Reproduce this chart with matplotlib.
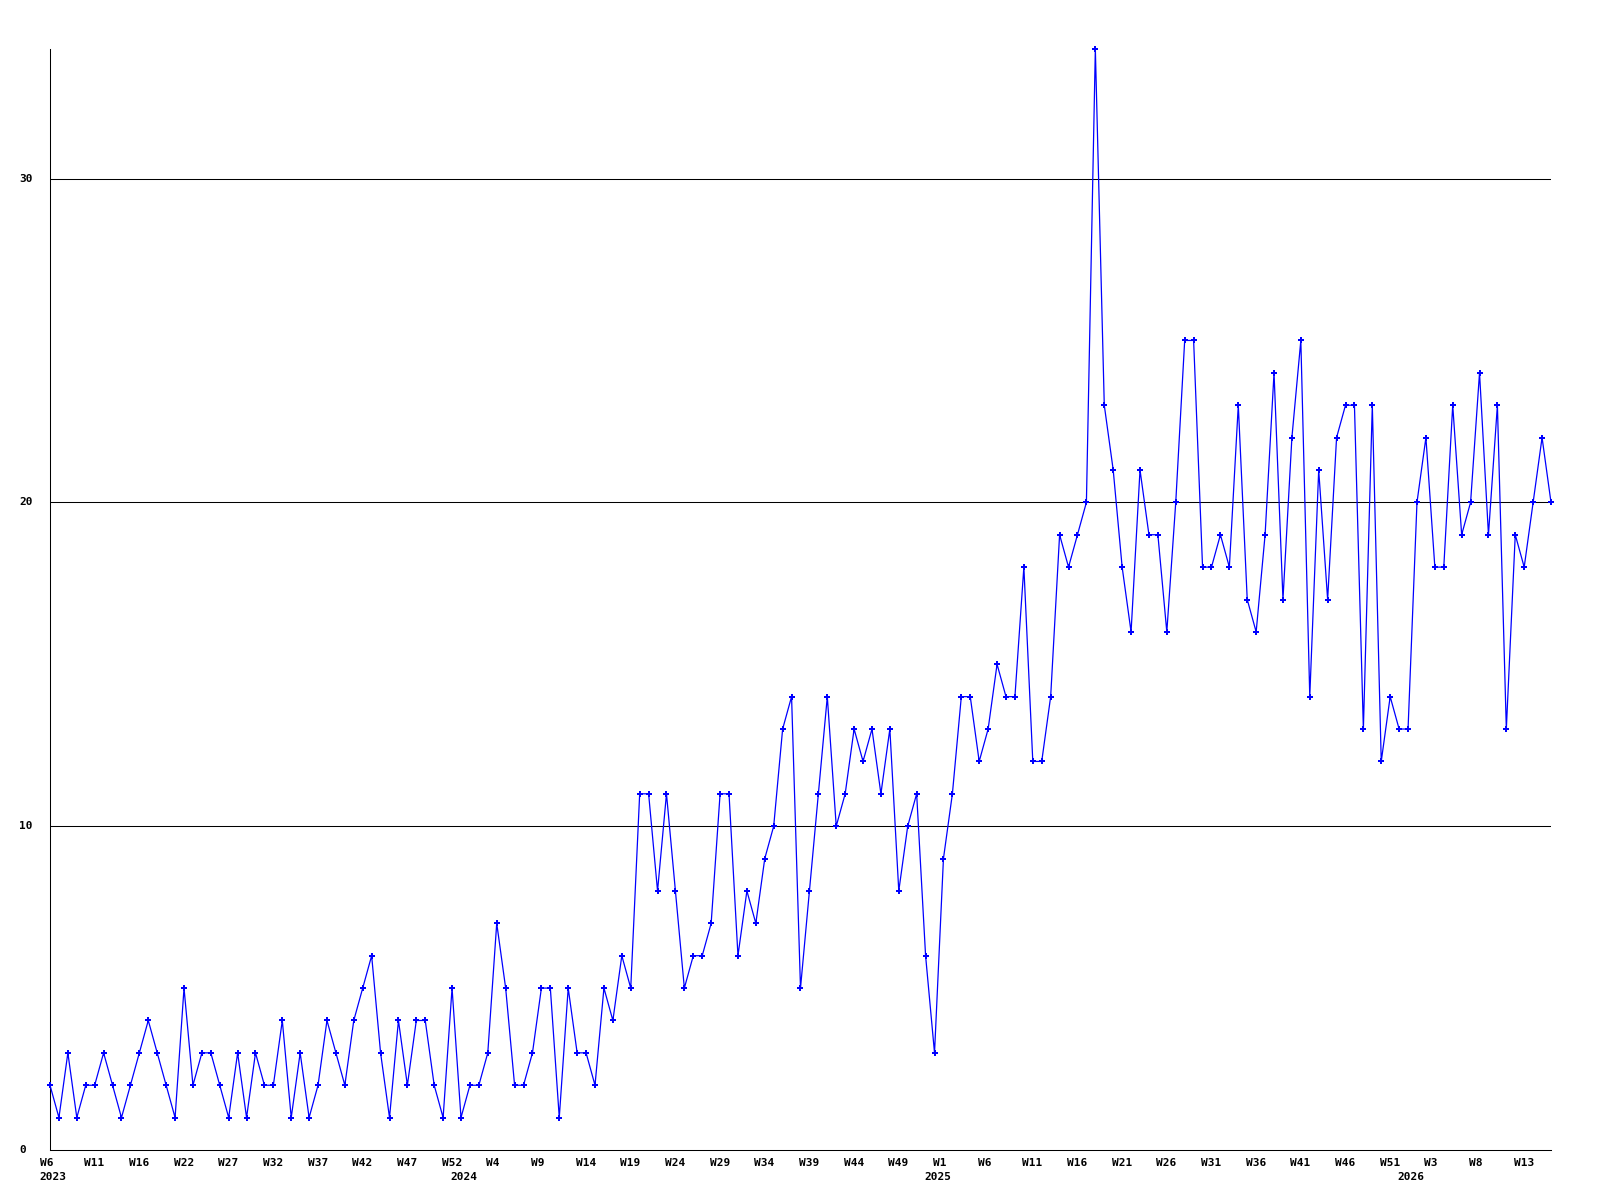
import numpy as np
import matplotlib
matplotlib.use("Agg")
import matplotlib.pyplot as plt

# weekly counts, one per data point
counts = [
    2, 1, 3, 1, 2, 2, 3, 2, 1, 2, 3, 4, 3, 2, 1, 5, 2, 3, 3, 2,
    1, 3, 1, 3, 2, 2, 4, 1, 3, 1, 2, 4, 3, 2, 4, 5, 6, 3, 1, 4,
    2, 4, 4, 2, 1, 5, 1, 2, 2, 3, 7, 5, 2, 2, 3, 5, 5, 1, 5, 3,
    3, 2, 5, 4, 6, 5,
    11, 11, 8, 11, 8, 5, 6, 6, 7, 11, 11, 6, 8, 7, 9, 10, 13, 14, 5, 8,
    11, 14, 10, 11, 13, 12, 13, 11, 13, 8, 10, 11, 6, 3, 9, 11, 14, 14, 12, 13,
    15, 14, 14, 18, 12, 12, 14, 19, 18, 19, 20, 34,
    23, 21, 18, 16, 21, 19, 19, 16, 20, 25, 25, 18, 18, 19, 18, 23, 17, 16, 19, 24,
    17, 22, 25, 14, 21, 17, 22, 23, 23, 13, 23, 12, 14, 13, 13,
    20, 22, 18, 18, 23, 19, 20, 24, 19, 23, 13, 19, 18, 20, 22, 20,
]

# a week label on every 5th point
week_labels = ["W6", "W11", "W16", "W22", "W27", "W32", "W37", "W42", "W47", "W52",
               "W4", "W9", "W14", "W19", "W24", "W29", "W34", "W39", "W44", "W49",
               "W1", "W6", "W11", "W16", "W21", "W26", "W31", "W36", "W41", "W46",
               "W51", "W3", "W8", "W13"]
label_step = 5

years = ["2023", "2024", "2025", "2026"]
year_start_index = [0, 46, 99, 152]

y_labels = [0, 10, 20, 30]

W, H = 1600, 1200
fig = plt.figure(figsize=(W / 100, H / 100), dpi=100)
left, right, bottom, top = 50, 1551, 1150, 49
ax = fig.add_axes([left / W, 1 - bottom / H, (right - left) / W, (bottom - top) / H])

x = np.arange(len(counts))
ax.set_xlim(0, len(counts) - 1)
ax.set_ylim(0, max(counts))

for v in y_labels[1:]:
    ax.axhline(v, color="black", lw=0.75, zorder=1)

ax.plot(x, counts, color="#0000ff", lw=0.9, marker="P", ms=4, mew=0,
        clip_on=False, zorder=3)

for s in ["top", "right"]:
    ax.spines[s].set_visible(False)
for s in ["left", "bottom"]:
    ax.spines[s].set_linewidth(0.75)
    ax.spines[s].set_color("black")
ax.set_xticks([])
ax.set_yticks([])

font = dict(family="DejaVu Sans Mono", fontweight="bold", fontsize=8, color="black")

for k, lab in enumerate(week_labels):
    ax.annotate(lab, xy=(k * label_step, 0), xycoords=("data", "axes fraction"),
                xytext=(-10.5, -8), textcoords="offset pixels",
                ha="left", va="top", **font)

for yr, i in zip(years, year_start_index):
    ax.annotate(yr, xy=(i, 0), xycoords=("data", "axes fraction"),
                xytext=(-10.5, -21.5), textcoords="offset pixels",
                ha="left", va="top", **font)

for v in y_labels:
    ax.annotate(str(v), xy=(0, v), xycoords=("axes fraction", "data"),
                xytext=(-30.5, 0), textcoords="offset pixels",
                ha="left", va="center", **font)

fig.savefig("out.png", dpi=100, facecolor="white")
